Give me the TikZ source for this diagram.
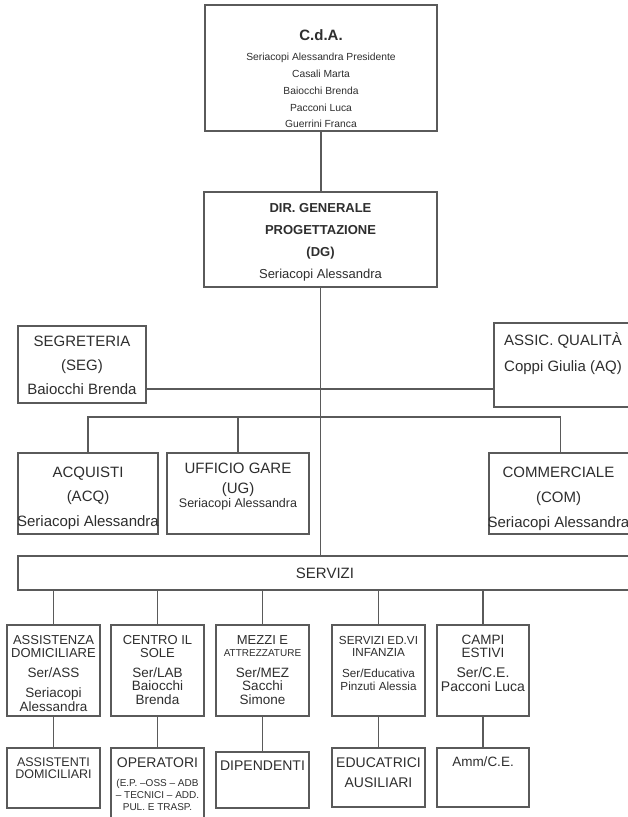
\documentclass[tikz,border=0pt]{standalone}
\usepackage{fontspec}
\setmainfont{Liberation Sans}
\definecolor{ln}{HTML}{5A5A5A}
\definecolor{tx}{HTML}{2E2E2E}
\newcommand\myfs[2]{\fontsize{#1}{#2}\selectfont}
\begin{document}
\begin{tikzpicture}[x=1pt,y=-1pt,
  box/.style={draw=ln,line width=1.1pt,inner sep=0pt,outer sep=0pt,rectangle},
  conn/.style={draw=ln,line width=1.2pt},
  txt/.style={text=tx,inner sep=0pt,outer sep=0pt,align=center,anchor=base}]
\useasboundingbox (0,0) rectangle (628,817);
\fill[white] (0,0) rectangle (628,817);
\clip (0,0) rectangle (628,817);

% boxes
\node[box,minimum width=232pt,minimum height=126pt] (cda) at (321,68) {};
\node[box,minimum width=233pt,minimum height=95pt] (dg) at (320.5,239.5) {};
\node[box,minimum width=128pt,minimum height=77pt] (seg) at (82,364.5) {};
\node[box,minimum width=138pt,minimum height=84pt] (aq) at (563,365) {};
\node[box,minimum width=140pt,minimum height=81pt] (acq) at (88,493.5) {};
\node[box,minimum width=142pt,minimum height=81pt] (ug) at (238,493.5) {};
\node[box,minimum width=143pt,minimum height=81pt] (com) at (560.5,493.5) {};
\node[box,minimum width=614pt,minimum height=34pt] (serv) at (325,573) {};
\node[box,minimum width=93pt,minimum height=91pt] (ra) at (53.5,670.5) {};
\node[box,minimum width=93pt,minimum height=91pt] (rb) at (157.5,670.5) {};
\node[box,minimum width=93pt,minimum height=91pt] (rc) at (262.5,670.5) {};
\node[box,minimum width=93pt,minimum height=91pt] (rd) at (378.5,670.5) {};
\node[box,minimum width=92pt,minimum height=91pt] (re) at (483,670.5) {};
\node[box,minimum width=93pt,minimum height=60pt] (sa) at (53.5,778) {};
\node[box,minimum width=93pt,minimum height=76pt] (sb) at (157.5,786) {};
\node[box,minimum width=93pt,minimum height=56pt] (sc) at (262.5,780) {};
\node[box,minimum width=93pt,minimum height=59pt] (sd) at (378.5,777.5) {};
\node[box,minimum width=92pt,minimum height=59pt] (se) at (483,777.5) {};

% connectors
\coordinate (hbar) at (320,389);
\coordinate (bus) at (320,417);
\draw[conn] (cda.south) -- (cda.south |- dg.north);
\draw[conn] (dg.south) -- (dg.south |- serv.north);
\draw[conn] (seg.east |- hbar) -- (aq.west |- hbar);
\draw[conn] (acq.north) -- (acq.north |- bus) -| (com.north);
\draw[conn] (ug.north) -- (ug.north |- bus);
\foreach \r/\s in {ra/sa,rb/sb,rc/sc,rd/sd,re/se}{
  \draw[conn] (\r.north |- serv.south) -- (\r.north);
  \draw[conn] (\r.south) -- (\s.north);
}

% texts (anchor = baseline of the last line)
\node[txt,font=\myfs{15}{18}\bfseries] (cdaT) at (321,40.4) {C.d.A.};
\node[txt,font=\myfs{10.3}{16.8}] (cdaL) at (321,127.9) {Seriacopi Alessandra Presidente\\Casali Marta\\Baiocchi Brenda\\Pacconi Luca\\Guerrini Franca};
\node[txt,font=\myfs{13}{22}] (dgT) at (320.5,278.7) {\textbf{DIR. GENERALE}\\\textbf{PROGETTAZIONE}\\\textbf{(DG)}\\Seriacopi Alessandra};
\node[txt,font=\myfs{15}{24}] (segT) at (82,394.4) {SEGRETERIA\\(SEG)\\Baiocchi Brenda};
\node[txt,font=\myfs{15}{26}] (aqT) at (563,371.4) {ASSIC. QUALITÀ\\Coppi Giulia (AQ)};
\node[txt,font=\myfs{15}{24.5}] (acqT) at (88,526.4) {ACQUISTI\\(ACQ)\\Seriacopi Alessandra};
\node[txt,font=\myfs{15}{20}] (ugT) at (238,493.4) {UFFICIO GARE\\(UG)};
\node[txt,font=\myfs{12.5}{15}] (ugS) at (238,507.5) {Seriacopi Alessandra};
\node[txt,font=\myfs{15}{25}] (comT) at (558.5,527.4) {COMMERCIALE\\(COM)\\Seriacopi Alessandra};
\node[txt,font=\myfs{15}{18}] (servT) at (325,578.4) {SERVIZI};

\node[txt,font=\myfs{13}{12.3}] (raH) at (53.5,657) {ASSISTENZA\\DOMICILIARE};
\node[txt,font=\myfs{13.5}{15}] (raS) at (53.5,677.7) {Ser/ASS};
\node[txt,font=\myfs{13.5}{14}] (raN) at (53.5,711.7) {Seriacopi\\Alessandra};
\node[txt,font=\myfs{13}{12.3}] (rbH) at (157.5,657) {CENTRO IL\\SOLE};
\node[txt,font=\myfs{13.5}{13.5}] (rbN) at (157.5,704) {Ser/LAB\\Baiocchi\\Brenda};
\node[txt,font=\myfs{13}{13}] (rcH) at (262.5,644.7) {MEZZI E};
\node[txt,font=\myfs{10}{12}] (rcH2) at (262.5,656.6) {ATTREZZATURE};
\node[txt,font=\myfs{13.5}{13.5}] (rcN) at (262.5,704) {Ser/MEZ\\Sacchi\\Simone};
\node[txt,font=\myfs{11.7}{12}] (rdH) at (378.5,656.2) {SERVIZI ED.VI\\INFANZIA};
\node[txt,font=\myfs{11.7}{13}] (rdN) at (378.5,690.2) {Ser/Educativa\\Pinzuti Alessia};
\node[txt,font=\myfs{13.5}{13}] (reH) at (483,657) {CAMPI\\ESTIVI};
\node[txt,font=\myfs{14}{13.5}] (reN) at (483,691) {Ser/C.E.\\Pacconi Luca};

\node[txt,font=\myfs{12.5}{12}] (saT) at (53.5,778.5) {ASSISTENTI\\DOMICILIARI};
\node[txt,font=\myfs{14}{14}] (sbT) at (157.5,767) {OPERATORI};
\node[txt,font=\myfs{10}{12}] (sbS) at (157.5,810.6) {(E.P. –OSS – ADB\\– TECNICI – ADD.\\PUL. E TRASP.};
\node[txt,font=\myfs{14}{14}] (scT) at (262.5,770) {DIPENDENTI};
\node[txt,font=\myfs{14}{20}] (sdT) at (378.5,787) {EDUCATRICI\\AUSILIARI};
\node[txt,font=\myfs{13.5}{14}] (seT) at (483,766.7) {Amm/C.E.};
\end{tikzpicture}
\end{document}
